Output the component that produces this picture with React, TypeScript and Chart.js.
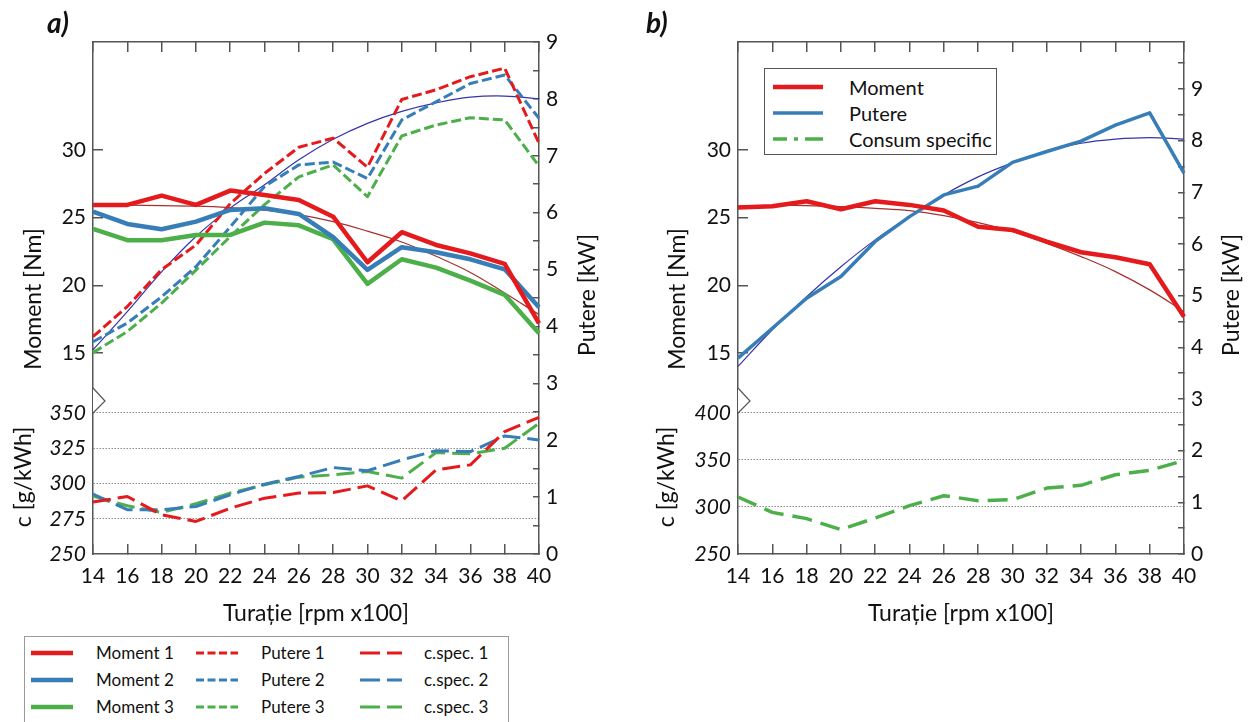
import React, { useEffect, useRef } from 'react';
import { Chart, registerables } from 'chart.js';

Chart.register(...registerables);

// ---------------- DATA ----------------
const rpm = ['14', '16', '18', '20', '22', '24', '26', '28', '30', '32', '34', '36', '38', '40'];

const momentTicks = [15, 20, 25, 30];
const cTicksA = [250, 275, 300, 325, 350];
const cTicksB = [250, 300, 350, 400];

// panel a)
const moment1 = [25.94, 25.94, 26.63, 25.94, 27.0, 26.67, 26.3, 25.07, 21.7, 23.92, 22.98, 22.36, 21.58, 17.19];
const moment2 = [25.44, 24.53, 24.14, 24.7, 25.57, 25.69, 25.27, 23.55, 21.13, 22.81, 22.44, 21.92, 21.18, 18.37];
const moment3 = [24.16, 23.33, 23.33, 23.72, 23.72, 24.63, 24.43, 23.4, 20.1, 21.92, 21.3, 20.34, 19.29, 16.45];
const putere1 = [3.82, 4.35, 5.0, 5.43, 6.16, 6.69, 7.15, 7.31, 6.8, 7.99, 8.16, 8.39, 8.54, 7.22];
const putere2 = [3.73, 4.06, 4.52, 5.05, 5.75, 6.46, 6.84, 6.89, 6.6, 7.63, 7.95, 8.27, 8.42, 7.66];
const putere3 = [3.54, 3.91, 4.41, 4.99, 5.58, 6.14, 6.63, 6.84, 6.28, 7.35, 7.54, 7.67, 7.63, 6.82];
const cspec1 = [286.8, 290.8, 277.8, 273.1, 282.5, 289.6, 293.2, 293.6, 298.3, 287.7, 309.7, 313.2, 336.8, 346.9];
const cspec2 = [292.5, 281.4, 281.4, 283.7, 292.0, 299.5, 305.0, 311.3, 309.0, 316.7, 323.3, 322.6, 333.7, 330.9];
const cspec3 = [291.0, 284.2, 279.5, 285.6, 293.2, 299.1, 304.5, 306.1, 308.5, 303.8, 321.9, 321.0, 325.0, 342.7];
const trendMomentA = [25.94, 25.92, 25.88, 25.85, 25.74, 25.55, 25.22, 24.7, 24.0, 23.2, 22.14, 20.95, 19.43, 17.83];
const trendPutereA = [3.59, 4.26, 4.96, 5.58, 6.08, 6.49, 6.93, 7.29, 7.57, 7.78, 7.93, 8.03, 8.05, 8.0];

// panel b)
const momentB = [25.74, 25.84, 26.21, 25.62, 26.21, 25.94, 25.52, 24.33, 24.09, 23.23, 22.44, 22.07, 21.55, 17.68];
const putereB = [3.79, 4.37, 4.95, 5.37, 6.05, 6.53, 6.95, 7.12, 7.58, 7.79, 7.99, 8.3, 8.54, 7.37];
const consumB = [310.6, 294.3, 287.6, 276.0, 288.3, 301.4, 312.0, 306.7, 307.8, 320.1, 323.0, 334.3, 338.9, 349.5];
const trendMomentB = [25.86, 25.89, 25.89, 25.81, 25.69, 25.52, 25.15, 24.63, 23.97, 23.1, 22.12, 21.01, 19.66, 18.05];
const trendPutereB = [3.63, 4.34, 4.98, 5.56, 6.08, 6.53, 6.95, 7.3, 7.57, 7.8, 7.95, 8.03, 8.06, 8.03];

// ---------------- STYLE ----------------
const FONT = "Lato, 'Open Sans', sans-serif";
const RED = '#E41A1C';
const BLUE = '#377EB8';
const GREEN = '#4DAF4A';
const TREND_RED = '#A83030';
const TREND_BLUE = '#3535A8';
const AXIS = '#555555';
const TEXT = '#111111';

const DASH_PUTERE = [10, 4];
const DASH_CSPEC = [18, 7];
const DASH_CONSUM = [20, 9];

function line(label: string, data: number[], color: string, width: number, dash: number[], yAxisID: string, tension = 0) {
  return {
    label,
    data,
    borderColor: color,
    backgroundColor: color,
    borderWidth: width,
    borderDash: dash,
    yAxisID,
    xAxisID: 'x',
    pointRadius: 0,
    pointHoverRadius: 0,
    fill: false,
    tension,
    borderCapStyle: 'butt',
    borderJoinStyle: 'round',
  };
}

type PanelCfg = {
  leftWidth: number;
  rightWidth: number;
  cMax: number;
  cTicks: number[];
  pMax: number;
  cTitlePad: number;
  momentDX: number;
  putereDX: number;
  datasets: any[];
};

function extrasPlugin(cfg: PanelCfg) {
  return {
    id: 'extras',
    afterDraw(chart: any) {
      const { ctx, chartArea } = chart;
      const yM = chart.scales.yM;
      ctx.save();
      // axis break marker
      const bx = chartArea.left;
      const by = yM.bottom + 1;
      ctx.beginPath();
      ctx.moveTo(bx, by - 13);
      ctx.lineTo(bx + 12, by);
      ctx.lineTo(bx, by + 12);
      ctx.closePath();
      ctx.fillStyle = '#ffffff';
      ctx.fill();
      ctx.beginPath();
      ctx.moveTo(bx, by - 13);
      ctx.lineTo(bx + 12, by);
      ctx.lineTo(bx, by + 12);
      ctx.strokeStyle = AXIS;
      ctx.lineWidth = 1.2;
      ctx.stroke();
      // rotated axis titles
      ctx.font = `23px ${FONT}`;
      ctx.fillStyle = TEXT;
      ctx.textAlign = 'center';
      ctx.textBaseline = 'middle';
      const drawRot = (text: string, x: number, y: number) => {
        ctx.save();
        ctx.translate(x, y);
        ctx.rotate(-Math.PI / 2);
        ctx.fillText(text, 0, 0);
        ctx.restore();
      };
      drawRot('Moment [Nm]', chartArea.left + cfg.momentDX, 299);
      drawRot('Putere [kW]', chartArea.right + cfg.putereDX, 295);
      ctx.restore();
    },
  };
}

function makeConfig(cfg: PanelCfg): any {
  const tickGrid = (len: number) => ({
    drawOnChartArea: false,
    drawTicks: true,
    tickLength: len,
    color: AXIS,
    lineWidth: 1.5,
  });
  const border = { display: true, color: AXIS, width: 1.5 };
  const tickFont = { family: FONT, size: 21 };
  return {
    type: 'line',
    data: { labels: rpm, datasets: cfg.datasets },
    options: {
      responsive: false,
      animation: false,
      events: [],
      layout: { padding: { top: 42, left: 0, right: 0, bottom: 0 } },
      plugins: { legend: { display: false }, tooltip: { enabled: false }, title: { display: false } },
      scales: {
        x: {
          type: 'category',
          labels: rpm,
          position: 'bottom',
          offset: false,
          grid: tickGrid(-10),
          border,
          ticks: { padding: 20, color: TEXT, font: tickFont, maxRotation: 0, autoSkip: false },
          title: {
            display: true,
            text: 'Turație [rpm x100]',
            color: TEXT,
            font: { family: FONT, size: 23 },
            padding: { top: 0, bottom: 13 },
          },
          afterFit: (s: any) => {
            s.height = 86;
          },
        },
        xTop: {
          type: 'category',
          labels: rpm,
          position: 'top',
          offset: false,
          grid: tickGrid(-10),
          border,
          ticks: { display: false },
          afterFit: (s: any) => {
            s.height = 0;
          },
        },
        yC: {
          type: 'linear',
          position: 'left',
          stack: 'left',
          stackWeight: 154,
          min: 250,
          max: cfg.cMax,
          afterBuildTicks: (s: any) => {
            s.ticks = cfg.cTicks.map((v) => ({ value: v }));
          },
          grid: {
            drawOnChartArea: true,
            drawTicks: false,
            lineWidth: 1,
            color: (c: any) => (c.tick && c.tick.value === 250 ? 'rgba(0,0,0,0)' : '#8c8c8c'),
          },
          border: { display: true, color: AXIS, width: 1.5, dash: [1.5, 1.5] },
          ticks: { padding: 7, color: TEXT, font: { family: FONT, size: 21, style: 'italic' }, autoSkip: false },
          title: {
            display: true,
            text: 'c [g/kWh]',
            color: TEXT,
            font: { family: FONT, size: 23 },
            padding: { top: cfg.cTitlePad, bottom: 0 },
          },
          afterFit: (s: any) => {
            s.width = cfg.leftWidth;
          },
        },
        yM: {
          type: 'linear',
          position: 'left',
          stack: 'left',
          stackWeight: 358,
          min: 11.52,
          max: 37.98,
          afterBuildTicks: (s: any) => {
            s.ticks = momentTicks.map((v) => ({ value: v }));
          },
          grid: tickGrid(-10),
          border,
          ticks: { padding: 17, color: TEXT, font: tickFont, autoSkip: false },
          afterFit: (s: any) => {
            s.width = cfg.leftWidth;
          },
        },
        yP: {
          type: 'linear',
          position: 'right',
          min: 0,
          max: cfg.pMax,
          grid: tickGrid(-6),
          border,
          ticks: {
            stepSize: 0.5,
            includeBounds: false,
            autoSkip: false,
            padding: 13,
            color: TEXT,
            font: tickFont,
            callback: (v: any) => (Number.isInteger(v) ? String(v) : ''),
          },
          afterFit: (s: any) => {
            s.width = cfg.rightWidth;
          },
        },
      },
    },
    plugins: [extrasPlugin(cfg)],
  };
}

const cfgA: PanelCfg = {
  leftWidth: 93,
  rightWidth: 87,
  cMax: 359.2,
  cTicks: cTicksA,
  pMax: 9,
  cTitlePad: 10,
  momentDX: -59.5,
  putereDX: 49,
  datasets: [
    line('Moment 1', moment1, RED, 4.5, [], 'yM'),
    line('Moment 2', moment2, BLUE, 4.5, [], 'yM'),
    line('Moment 3', moment3, GREEN, 4.5, [], 'yM'),
    line('Putere 1', putere1, RED, 3, DASH_PUTERE, 'yP'),
    line('Putere 2', putere2, BLUE, 3, DASH_PUTERE, 'yP'),
    line('Putere 3', putere3, GREEN, 3, DASH_PUTERE, 'yP'),
    line('c.spec. 1', cspec1, RED, 3, DASH_CSPEC, 'yC'),
    line('c.spec. 2', cspec2, BLUE, 3, DASH_CSPEC, 'yC'),
    line('c.spec. 3', cspec3, GREEN, 3, DASH_CSPEC, 'yC'),
    line('Trend moment', trendMomentA, TREND_RED, 1.2, [], 'yM', 0.4),
    line('Trend putere', trendPutereA, TREND_BLUE, 1.2, [], 'yP', 0.4),
  ],
};

const cfgB: PanelCfg = {
  leftWidth: 112,
  rightWidth: 69,
  cMax: 413.8,
  cTicks: cTicksB,
  pMax: 9.91,
  cTitlePad: 27,
  momentDX: -60,
  putereDX: 48,
  datasets: [
    line('Moment', momentB, RED, 4.5, [], 'yM'),
    line('Putere', putereB, BLUE, 3.5, [], 'yP'),
    line('Consum specific', consumB, GREEN, 3.5, DASH_CONSUM, 'yC'),
    line('Trend moment', trendMomentB, TREND_RED, 1.2, [], 'yM', 0.4),
    line('Trend putere', trendPutereB, TREND_BLUE, 1.2, [], 'yP', 0.4),
  ],
};

function Panel({ cfg, left, width, height }: { cfg: PanelCfg; left: number; width: number; height: number }) {
  const ref = useRef<HTMLCanvasElement>(null);
  useEffect(() => {
    const chart = new Chart(ref.current as HTMLCanvasElement, makeConfig(cfg));
    return () => chart.destroy();
  }, []);
  return (
    <canvas
      ref={ref}
      width={width}
      height={height}
      style={{ position: 'absolute', left, top: 0, width, height }}
    />
  );
}

type LegendItem = { label: string; color: string; width: number; dash: string };

const legendA: LegendItem[][] = [
  [
    { label: 'Moment 1', color: RED, width: 4.5, dash: '' },
    { label: 'Putere 1', color: RED, width: 3, dash: '8 3.5' },
    { label: 'c.spec. 1', color: RED, width: 3, dash: '20 7' },
  ],
  [
    { label: 'Moment 2', color: BLUE, width: 4.5, dash: '' },
    { label: 'Putere 2', color: BLUE, width: 3, dash: '8 3.5' },
    { label: 'c.spec. 2', color: BLUE, width: 3, dash: '20 7' },
  ],
  [
    { label: 'Moment 3', color: GREEN, width: 4.5, dash: '' },
    { label: 'Putere 3', color: GREEN, width: 3, dash: '8 3.5' },
    { label: 'c.spec. 3', color: GREEN, width: 3, dash: '20 7' },
  ],
];

const legendB: LegendItem[] = [
  { label: 'Moment', color: RED, width: 4.5, dash: '' },
  { label: 'Putere', color: BLUE, width: 3.5, dash: '' },
  { label: 'Consum specific', color: GREEN, width: 3.5, dash: '14 7 4 7 20 7' },
];

function Sample({ item, x, y, w }: { item: LegendItem; x: number; y: number; w: number }) {
  return (
    <svg
      width={w}
      height={10}
      style={{ position: 'absolute', left: x, top: y - 5, overflow: 'visible' }}
    >
      <line
        x1={0}
        y1={5}
        x2={w}
        y2={5}
        stroke={item.color}
        strokeWidth={item.width}
        strokeDasharray={item.dash || undefined}
      />
    </svg>
  );
}

export default function App() {
  const colSample = [31, 196, 360];
  const colText = [96, 261, 424];
  const rowY = [653, 680, 707];
  const rowYB = [87, 113, 139];
  return (
    <div
      style={{
        position: 'absolute',
        left: 0,
        top: 0,
        width: 1253,
        height: 722,
        overflow: 'hidden',
        background: '#ffffff',
        fontFamily: FONT,
        color: TEXT,
      }}
    >
      <Panel cfg={cfgA} left={0} width={626} height={640} />
      <Panel cfg={cfgB} left={626} width={627} height={640} />

      <div style={{ position: 'absolute', left: 47, top: 8, fontSize: 28, lineHeight: '28px', fontWeight: 700, fontStyle: 'italic' }}>
        a)
      </div>
      <div style={{ position: 'absolute', left: 646, top: 8, fontSize: 28, lineHeight: '28px', fontWeight: 700, fontStyle: 'italic' }}>
        b)
      </div>

      {/* legend a */}
      <div
        style={{
          position: 'absolute',
          left: 24,
          top: 636,
          width: 485,
          height: 100,
          border: '1.5px solid #9a9a9a',
          boxSizing: 'border-box',
          background: '#ffffff',
        }}
      />
      {legendA.map((row, r) =>
        row.map((item, c) => (
          <React.Fragment key={`${r}-${c}`}>
            <Sample item={item} x={colSample[c]} y={rowY[r]} w={42} />
            <div
              style={{
                position: 'absolute',
                left: colText[c],
                top: rowY[r] - 11,
                fontSize: 17,
                lineHeight: '22px',
                whiteSpace: 'nowrap',
              }}
            >
              {item.label}
            </div>
          </React.Fragment>
        ))
      )}

      {/* legend b */}
      <div
        style={{
          position: 'absolute',
          left: 764,
          top: 68,
          width: 233,
          height: 87,
          border: '1.5px solid #555555',
          boxSizing: 'border-box',
          background: '#ffffff',
        }}
      />
      {legendB.map((item, r) => (
        <React.Fragment key={`b-${r}`}>
          <Sample item={item} x={773} y={rowYB[r]} w={50} />
          <div
            style={{
              position: 'absolute',
              left: 849,
              top: rowYB[r] - 13,
              fontSize: 20,
              lineHeight: '26px',
              whiteSpace: 'nowrap',
            }}
          >
            {item.label}
          </div>
        </React.Fragment>
      ))}
    </div>
  );
}
